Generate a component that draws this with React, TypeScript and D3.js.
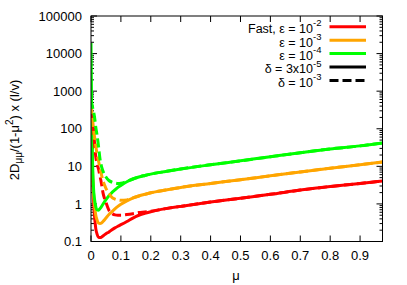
import React from "react";
import * as d3 from "d3";

// ---- data ----
const muGrid = [0, 0.002, 0.005, 0.008, 0.012, 0.016, 0.02, 0.025, 0.03, 0.035, 0.04, 0.05, 0.06, 0.07, 0.08, 0.09, 0.1, 0.12, 0.14, 0.16, 0.18, 0.2, 0.25, 0.3, 0.4, 0.5, 0.6, 0.7, 0.8, 0.9, 0.975];

// solid: delta = 3x10^-5
const fastEps2 = [300, 40, 5, 1.4, 0.45, 0.22, 0.16, 0.13, 0.127, 0.13, 0.14, 0.16, 0.18, 0.205, 0.23, 0.255, 0.28, 0.34, 0.42, 0.5, 0.56, 0.62, 0.75, 0.86, 1.12, 1.42, 1.8, 2.33, 2.9, 3.5, 4.06];
const eps3 = [400, 60, 8, 2.2, 0.9, 0.5, 0.38, 0.31, 0.3, 0.31, 0.34, 0.42, 0.52, 0.62, 0.74, 0.86, 0.98, 1.2, 1.42, 1.62, 1.8, 1.98, 2.35, 2.75, 3.5, 4.4, 5.6, 7.1, 8.9, 11, 13];
const eps4 = [19000, 400, 15, 3, 1.3, 0.85, 0.7, 0.68, 0.75, 0.85, 0.98, 1.3, 1.65, 2.0, 2.35, 2.75, 3.1, 3.9, 4.6, 5.2, 5.7, 6.2, 7.3, 8.5, 11, 14, 18, 23, 29, 35, 42];

// dashed: delta = 10^-3
const fastEps2Dash = [260, 200, 140, 100, 40, 18, 12, 8.5, 5.5, 3.5, 2.0, 1.1, 0.68, 0.56, 0.51, 0.5, 0.5, 0.52, 0.55, 0.59, 0.61, 0.64, 0.75, 0.86, 1.12, 1.42, 1.8, 2.33, 2.9, 3.5, 4.06];
const eps3Dash = [430, 300, 180, 110, 60, 35, 22, 14, 9, 6, 4.2, 2.6, 1.9, 1.5, 1.35, 1.28, 1.25, 1.28, 1.45, 1.63, 1.8, 1.98, 2.35, 2.75, 3.5, 4.4, 5.6, 7.1, 8.9, 11, 13];
const eps4Dash = [575, 500, 380, 300, 200, 110, 70, 35, 16, 10, 7.5, 5.2, 4.2, 3.8, 3.6, 3.5, 3.55, 4.0, 4.6, 5.2, 5.7, 6.2, 7.3, 8.5, 11, 14, 18, 23, 29, 35, 42];

const xTicks = [0, 0.1, 0.2, 0.3, 0.4, 0.5, 0.6, 0.7, 0.8, 0.9];
const yTicks = [0.1, 1, 10, 100, 1000, 10000, 100000];
const yTickLabels = ["0.1", "1", "10", "100", "1000", "10000", "100000"];

const legendMain = ["Fast, \u03b5 = 10", "\u03b5 = 10", "\u03b5 = 10", "\u03b4 = 3x10", "\u03b4 = 10"];
const legendSup = ["-2", "-3", "-4", "-5", "-3"];

const W = 407;
const H = 285;
const L = 91;
const R = 382.5;
const T = 16;
const B = 241.5;
const FONT = "'Liberation Sans', Arial, Helvetica, sans-serif";

export default function App() {
  const x = d3.scaleLinear().domain([0, 0.975]).range([L, R]);
  const y = d3.scaleLog().domain([0.1, 100000]).range([B, T]);

  const line = d3
    .line<number>()
    .x((_, i) => x(muGrid[i]))
    .y((d) => y(d))
    .curve(d3.curveMonotoneX);

  const series = [
    { data: fastEps2, color: "#ff0000", dash: undefined },
    { data: eps3, color: "#ffa500", dash: undefined },
    { data: eps4, color: "#00ff00", dash: undefined },
    { data: fastEps2Dash, color: "#ff0000", dash: "9,4" },
    { data: eps3Dash, color: "#ffa500", dash: "9,4" },
    { data: eps4Dash, color: "#00ff00", dash: "9,4" },
  ];

  const minor: number[] = [];
  for (let e = -1; e < 5; e++) {
    for (let k = 2; k <= 9; k++) minor.push(k * Math.pow(10, e));
  }

  const legendColors = ["#ff0000", "#ffa500", "#00ff00", "#000000", "#000000"];
  const legendDash = [undefined, undefined, undefined, undefined, "9,4"];
  const legendRows = [26.7, 40.2, 53.6, 67.1, 80.5];

  return (
    <svg
      width={W}
      height={H}
      style={{ position: "absolute", left: 0, top: 0, background: "#fff" }}
      fontFamily={FONT}
    >
      <defs>
        <clipPath id="plotclip">
          <rect x={L} y={T} width={R - L} height={B - T} />
        </clipPath>
      </defs>
      <rect x={0} y={0} width={W} height={H} fill="#fff" />

      {/* ticks */}
      <g stroke="#000" strokeWidth={1}>
        {xTicks.map((t) => (
          <g key={"xt" + t}>
            <line x1={x(t)} x2={x(t)} y1={B} y2={B - 6} />
            <line x1={x(t)} x2={x(t)} y1={T} y2={T + 6} />
          </g>
        ))}
        {yTicks.map((t) => (
          <g key={"yt" + t}>
            <line x1={L} x2={L + 6} y1={y(t)} y2={y(t)} />
            <line x1={R} x2={R - 6} y1={y(t)} y2={y(t)} />
          </g>
        ))}
        {minor.map((t) => (
          <g key={"ym" + t}>
            <line x1={L} x2={L + 3} y1={y(t)} y2={y(t)} />
            <line x1={R} x2={R - 3} y1={y(t)} y2={y(t)} />
          </g>
        ))}
      </g>

      {/* curves */}
      <g clipPath="url(#plotclip)" fill="none">
        {series.map((s, i) => (
          <path
            key={"s" + i}
            d={line(s.data) || ""}
            stroke={s.color}
            strokeWidth={3}
            strokeDasharray={s.dash}
            strokeLinejoin="round"
          />
        ))}
      </g>

      {/* frame */}
      <rect x={L} y={T} width={R - L} height={B - T} fill="none" stroke="#000" strokeWidth={1} />

      {/* tick labels */}
      <g fontSize={13} fill="#000">
        {xTicks.map((t) => (
          <text key={"xl" + t} x={x(t)} y={260} textAnchor="middle">
            {String(t)}
          </text>
        ))}
        {yTicks.map((t, i) => (
          <text key={"yl" + t} x={82} y={y(t) + 4.7} textAnchor="end">
            {yTickLabels[i]}
          </text>
        ))}
      </g>

      {/* axis labels */}
      <text x={236} y={280} fontSize={13} textAnchor="middle">
        {"\u03bc"}
      </text>
      <text transform="translate(18.5,130) rotate(-90)" fontSize={13} textAnchor="middle">
        2D
        <tspan dy={3} fontSize={10}>
          {"\u03bc\u03bc"}
        </tspan>
        <tspan dy={-3}>{"/(1-\u03bc"}</tspan>
        <tspan dy={-6} fontSize={10}>
          2
        </tspan>
        <tspan dy={6}>{") x (l/v)"}</tspan>
      </text>

      {/* legend */}
      <g>
        {legendMain.map((m, i) => (
          <g key={"lg" + i}>
            <text x={313} y={legendRows[i] + 6.3} fontSize={12.5} textAnchor="end">
              {m}
            </text>
            <text x={313} y={legendRows[i] - 0.5} fontSize={9.5} textAnchor="start">
              {legendSup[i]}
            </text>
            <line
              x1={329.5}
              x2={366}
              y1={legendRows[i]}
              y2={legendRows[i]}
              stroke={legendColors[i]}
              strokeWidth={3}
              strokeDasharray={legendDash[i]}
            />
          </g>
        ))}
      </g>
    </svg>
  );
}
